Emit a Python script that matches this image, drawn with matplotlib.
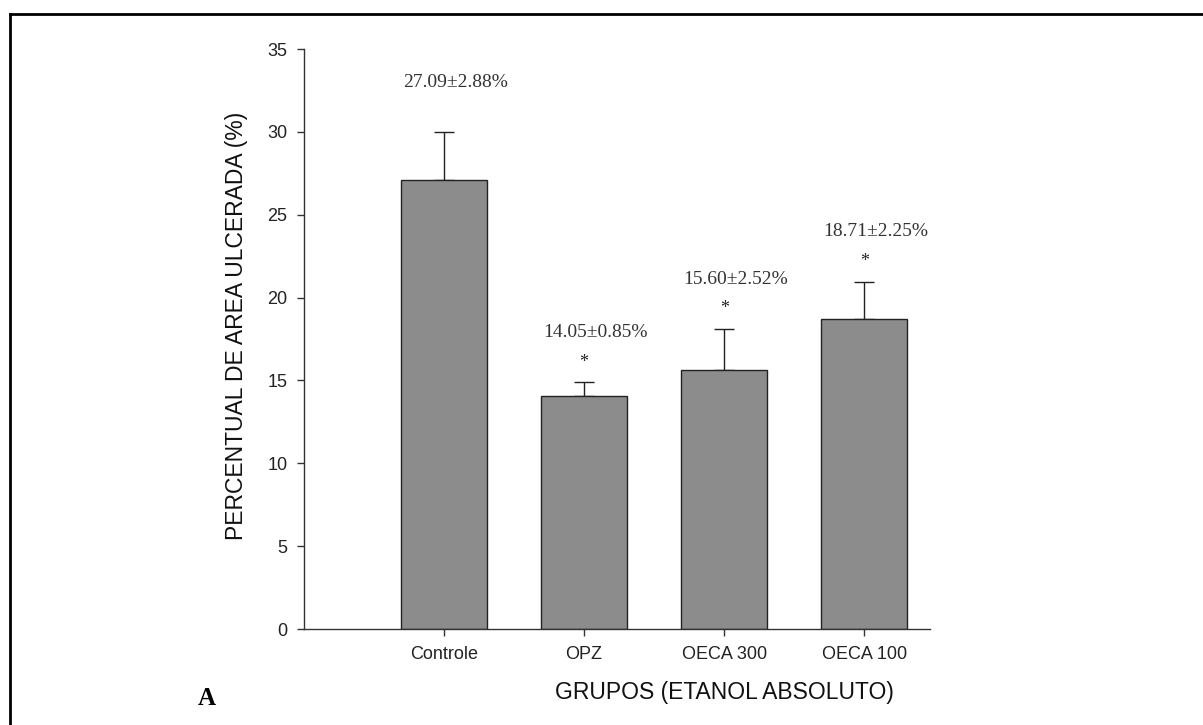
import matplotlib.pyplot as plt
from matplotlib.lines import Line2D

# data
grupos = ["Controle", "OPZ", "OECA 300", "OECA 100"]
media = [27.09, 14.05, 15.60, 18.71]
epm = [2.88, 0.85, 2.52, 2.25]
rotulos = ["27.09±2.88%", "14.05±0.85%", "15.60±2.52%", "18.71±2.25%"]
signif = ["", "*", "*", "*"]

plt.rcParams["font.family"] = ["Liberation Sans", "DejaVu Sans"]

fig = plt.figure(figsize=(12.03, 7.25), dpi=100)
ax = fig.add_axes([0.2527, 0.1324, 0.5204, 0.80])

x = list(range(len(grupos)))
ax.bar(x, media, width=0.61, color="#8c8c8c", edgecolor="#222222", linewidth=1.0, zorder=2)
ax.errorbar(x, media, yerr=[[0] * len(epm), epm], fmt="none", ecolor="#222222",
            elinewidth=1.0, capsize=7, capthick=1.0, zorder=1)

for xi, m, e, r, s in zip(x, media, epm, rotulos, signif):
    top = m + e
    ax.text(xi + 0.08, top + 3.0, r, ha="center", va="center", fontsize=14,
            family=["Liberation Serif", "DejaVu Serif"], color="#333333")
    if s:
        ax.text(xi, top + 1.2, s, ha="center", va="center", fontsize=13,
                family=["Liberation Serif", "DejaVu Serif"], color="#222222")

ax.set_xlim(-1.0, 3.47)
ax.set_ylim(0, 35)
ax.set_yticks(range(0, 36, 5))
ax.set_xticks(x)
ax.set_xticklabels(grupos)
ax.spines["top"].set_visible(False)
ax.spines["right"].set_visible(False)
for sp in ("left", "bottom"):
    ax.spines[sp].set_color("#333333")
    ax.spines[sp].set_linewidth(1.0)
ax.tick_params(axis="both", direction="out", length=5, width=1.0, color="#333333",
               labelsize=13, labelcolor="#222222", pad=7)

fig.text(0.602, 0.045, "GRUPOS (ETANOL ABSOLUTO)", ha="center", va="center",
         fontsize=16.5, color="#111111")
fig.text(0.197, 0.55, "PERCENTUAL DE AREA ULCERADA (%)", ha="center", va="center",
         rotation=90, fontsize=16.5, color="#111111")
fig.text(0.172, 0.037, "A", ha="center", va="center", fontsize=18, fontweight="bold",
         family=["Liberation Serif", "DejaVu Serif"], color="black")

# frame lines (top and left) around the panel
fig.add_artist(Line2D([10 / 1203, 1.0], [1 - 14 / 725, 1 - 14 / 725],
                      transform=fig.transFigure, color="black", linewidth=2.0))
fig.add_artist(Line2D([10 / 1203, 10 / 1203], [0.0, 1 - 14 / 725],
                      transform=fig.transFigure, color="black", linewidth=2.0))

fig.savefig("out.png", dpi=100)
